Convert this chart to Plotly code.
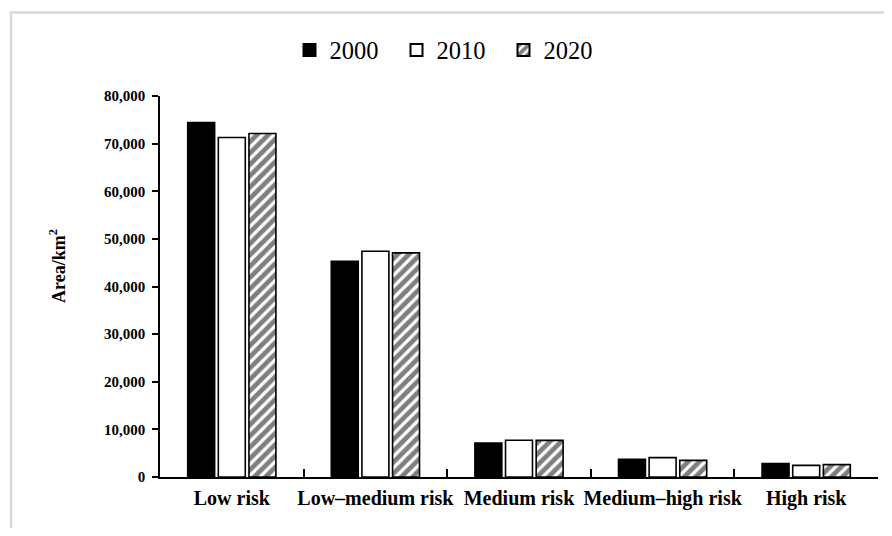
import plotly.graph_objects as go

categories = ["Low risk", "Low\u2013medium risk", "Medium risk", "Medium\u2013high risk", "High risk"]
years = ["2000", "2010", "2020"]
area_2000 = [74450, 45300, 7140, 3720, 2800]
area_2010 = [71300, 47400, 7710, 4070, 2450]
area_2020 = [72140, 47050, 7700, 3500, 2600]
y_ticks = [0, 10000, 20000, 30000, 40000, 50000, 60000, 70000, 80000]
y_tick_labels = ["0", "10,000", "20,000", "30,000", "40,000", "50,000", "60,000", "70,000", "80,000"]

serif = "Liberation Serif, Times New Roman, serif"

fig = go.Figure()
fig.add_trace(go.Bar(
    name=years[0], x=categories, y=area_2000,
    marker=dict(color="black", line=dict(color="black", width=1.6)),
))
fig.add_trace(go.Bar(
    name=years[1], x=categories, y=area_2010,
    marker=dict(color="white", line=dict(color="black", width=1.6)),
))
fig.add_trace(go.Bar(
    name=years[2], x=categories, y=area_2020,
    marker=dict(color="white", line=dict(color="black", width=1.6),
                pattern=dict(shape="/", fgcolor="black", bgcolor="white", size=8, solidity=0.6)),
))

# page has an 8px body margin; work in page pixels and convert
OFF = 8
W, H = 876, 520
L = 160 - OFF
R = W - (878 - OFF)
T = 96 - OFF
B = H - (477 - OFF)
pw = W - L - R
ph = H - T - B

def px_x(px):
    return (px - OFF - L) / pw

def px_y(py):
    return (H - B - (py - OFF)) / ph

fig.update_layout(
    width=W, height=H,
    margin=dict(l=L, r=R, t=T, b=B, pad=0, autoexpand=False),
    paper_bgcolor="white", plot_bgcolor="white",
    barmode="group", bargap=0.36, bargroupgap=0.12,
    font=dict(family=serif, color="black"),
    showlegend=True,
    legend=dict(orientation="h", x=px_x(450), xanchor="center", y=px_y(50), yanchor="middle",
                font=dict(family=serif, size=24.5, color="black"),
                entrywidth=62, itemsizing="constant", traceorder="normal"),
    xaxis=dict(
        showline=True, linecolor="black", linewidth=1.5,
        ticks="inside", tickson="boundaries", ticklen=8, tickwidth=1.5, tickcolor="black",
        tickfont=dict(family=serif, size=20, color="black", weight="bold"),
        tickangle=0, automargin=False,
        showgrid=False, zeroline=False, ticklabelstandoff=2,
    ),
    yaxis=dict(
        range=[0, 80000], showline=True, linecolor="black", linewidth=1.5,
        ticks="outside", ticklen=6, tickwidth=1.5, tickcolor="black",
        tickvals=y_ticks, ticktext=y_tick_labels, automargin=False,
        tickfont=dict(family=serif, size=15, color="black", weight="bold"),
        showgrid=False, zeroline=False, ticklabelstandoff=4,
    ),
    annotations=[dict(
        text="<b>Area/km<sup>2</sup></b>", textangle=-90,
        x=px_x(57), y=px_y(266), xref="paper", yref="paper",
        xanchor="center", yanchor="middle",
        showarrow=False, font=dict(family=serif, size=18, color="black"),
    )],
    shapes=[dict(
        type="path", xref="paper", yref="paper",
        path=f"M {px_x(11)} {px_y(560)} L {px_x(11)} {px_y(12.5)} L {px_x(920)} {px_y(12.5)}",
        line=dict(color="#d9d9d9", width=2.5),
    )],
)

fig.write_html("out.html")
